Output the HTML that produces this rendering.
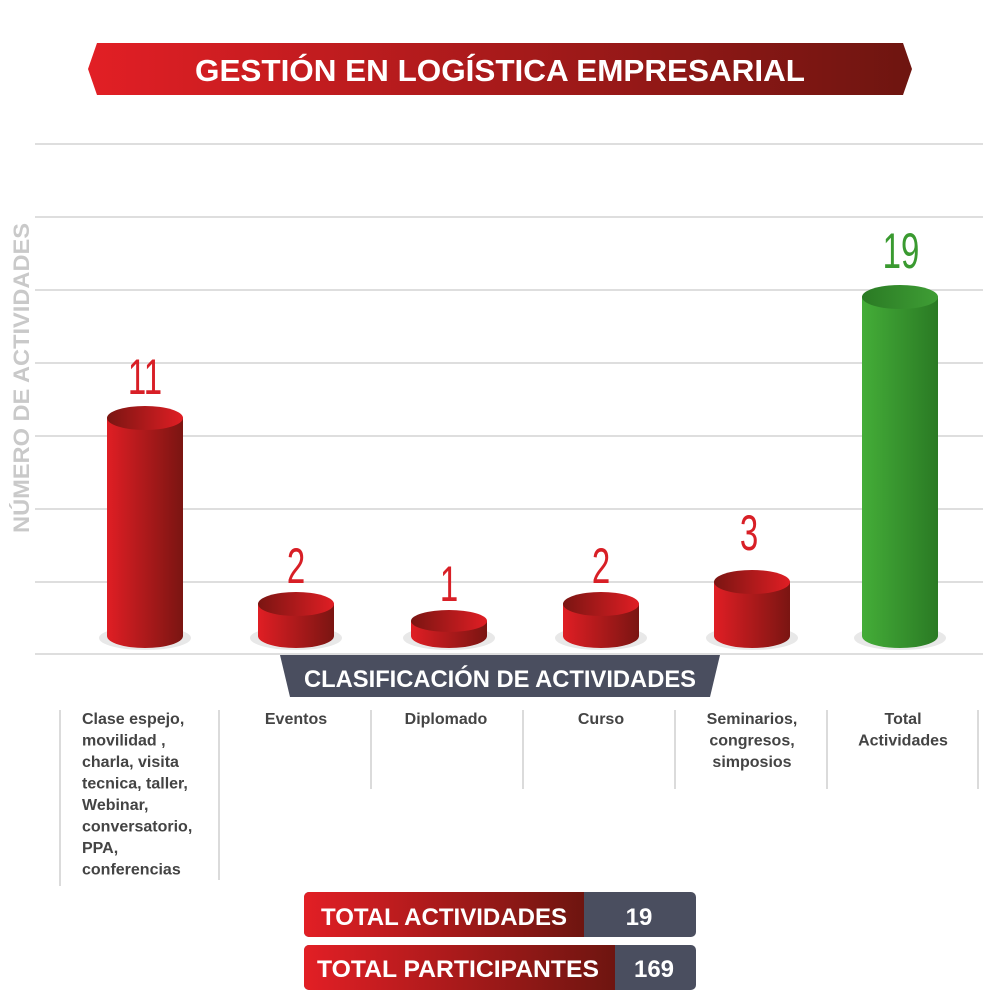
<!DOCTYPE html>
<html><head><meta charset="utf-8"><style>body{margin:0;background:#fff}svg{display:block}</style></head><body>
<svg width="1000" height="1000" viewBox="0 0 1000 1000" xmlns="http://www.w3.org/2000/svg" font-family="Liberation Sans, sans-serif">
<defs>
<linearGradient id="tg" x1="0" x2="1"><stop offset="0" stop-color="#e21f25"/><stop offset="1" stop-color="#6e1510"/></linearGradient>
<linearGradient id="rb" x1="0" x2="1"><stop offset="0" stop-color="#e01e24"/><stop offset="1" stop-color="#7a1512"/></linearGradient>
<linearGradient id="rt" x1="0" x2="1"><stop offset="0" stop-color="#7a1512"/><stop offset="1" stop-color="#e01e24"/></linearGradient>
<linearGradient id="gb" x1="0" x2="1"><stop offset="0" stop-color="#44ad38"/><stop offset="1" stop-color="#2a7a24"/></linearGradient>
<linearGradient id="gt" x1="0" x2="1"><stop offset="0" stop-color="#2a7a24"/><stop offset="1" stop-color="#3f9e35"/></linearGradient>
</defs>
<rect width="1000" height="1000" fill="#fff"/>
<polygon points="97,43 903,43 912,69 903,95 97,95 88,69" fill="url(#tg)"/>
<text x="500" y="81" text-anchor="middle" fill="#fff" font-size="31" font-weight="bold" textLength="610" lengthAdjust="spacingAndGlyphs">GESTIÓN EN LOGÍSTICA EMPRESARIAL</text>
<g stroke="#dedede" stroke-width="2">
<line x1="35" y1="144" x2="983" y2="144"/><line x1="35" y1="217" x2="983" y2="217"/><line x1="35" y1="290" x2="983" y2="290"/><line x1="35" y1="363" x2="983" y2="363"/><line x1="35" y1="436" x2="983" y2="436"/><line x1="35" y1="509" x2="983" y2="509"/><line x1="35" y1="582" x2="983" y2="582"/><line x1="35" y1="654" x2="983" y2="654"/>
</g>
<text transform="translate(29,378) rotate(-90)" text-anchor="middle" fill="#c9c9c9" font-size="22" font-weight="bold" textLength="310" lengthAdjust="spacingAndGlyphs">NÚMERO DE ACTIVIDADES</text>
<g fill="#e8e8e8">
<ellipse cx="145" cy="638" rx="46" ry="12"/><ellipse cx="296" cy="638" rx="46" ry="12"/><ellipse cx="449" cy="638" rx="46" ry="12"/><ellipse cx="601" cy="638" rx="46" ry="12"/><ellipse cx="752" cy="638" rx="46" ry="12"/><ellipse cx="900" cy="638" rx="46" ry="12"/>
</g>
<g>
<path d="M107,418 V636 A38,12 0 0 0 183,636 V418 Z" fill="url(#rb)"/><ellipse cx="145" cy="418" rx="38" ry="12" fill="url(#rt)"/>
<path d="M258,604 V636 A38,12 0 0 0 334,636 V604 Z" fill="url(#rb)"/><ellipse cx="296" cy="604" rx="38" ry="12" fill="url(#rt)"/>
<path d="M411,621 V636 A38,12 0 0 0 487,636 V621 Z" fill="url(#rb)"/><ellipse cx="449" cy="621" rx="38" ry="11" fill="url(#rt)"/>
<path d="M563,604 V636 A38,12 0 0 0 639,636 V604 Z" fill="url(#rb)"/><ellipse cx="601" cy="604" rx="38" ry="12" fill="url(#rt)"/>
<path d="M714,582 V636 A38,12 0 0 0 790,636 V582 Z" fill="url(#rb)"/><ellipse cx="752" cy="582" rx="38" ry="12" fill="url(#rt)"/>
<path d="M862,297 V636 A38,12 0 0 0 938,636 V297 Z" fill="url(#gb)"/><ellipse cx="900" cy="297" rx="38" ry="12" fill="url(#gt)"/>
</g>
<g font-size="50" text-anchor="middle" fill="#d81f26">
<text transform="translate(145,394) scale(0.66,1)">11</text>
<text transform="translate(296,583) scale(0.66,1)">2</text>
<text transform="translate(449,601) scale(0.66,1)">1</text>
<text transform="translate(601,583) scale(0.66,1)">2</text>
<text transform="translate(749,550) scale(0.66,1)">3</text>
<text transform="translate(901,268) scale(0.66,1)" fill="#3a9a30">19</text>
</g>
<polygon points="280,655 720,655 710,697 290,697" fill="#4a4e5f"/>
<text x="500" y="687" text-anchor="middle" fill="#fff" font-size="24" font-weight="bold" textLength="392" lengthAdjust="spacingAndGlyphs">CLASIFICACIÓN  DE ACTIVIDADES</text>
<g stroke="#cfcfcf" stroke-width="1.5">
<line x1="60" y1="710" x2="60" y2="886"/><line x1="219" y1="710" x2="219" y2="880"/><line x1="371" y1="710" x2="371" y2="789"/><line x1="523" y1="710" x2="523" y2="789"/><line x1="675" y1="710" x2="675" y2="789"/><line x1="827" y1="710" x2="827" y2="789"/><line x1="978" y1="710" x2="978" y2="789"/>
</g>
<g font-size="16" font-weight="bold" fill="#444">
<text x="82" y="724"><tspan x="82">Clase espejo,</tspan><tspan x="82" dy="21.5">movilidad ,</tspan><tspan x="82" dy="21.5">charla, visita</tspan><tspan x="82" dy="21.5">tecnica, taller,</tspan><tspan x="82" dy="21.5">Webinar,</tspan><tspan x="82" dy="21.5">conversatorio,</tspan><tspan x="82" dy="21.5">PPA,</tspan><tspan x="82" dy="21.5">conferencias</tspan></text>
<g text-anchor="middle">
<text x="296" y="724">Eventos</text>
<text x="446" y="724">Diplomado</text>
<text x="601" y="724">Curso</text>
<text x="752" y="724"><tspan x="752">Seminarios,</tspan><tspan x="752" dy="21.5">congresos,</tspan><tspan x="752" dy="21.5">simposios</tspan></text>
<text x="903" y="724"><tspan x="903">Total</tspan><tspan x="903" dy="21.5">Actividades</tspan></text>
</g>
</g>
<rect x="304" y="892" width="392" height="45" rx="5" fill="#4a4e5f"/>
<path d="M309,892 H584 V937 H309 A5,5 0 0 1 304,932 V897 A5,5 0 0 1 309,892 Z" fill="url(#tg)"/>
<text x="444" y="925" text-anchor="middle" fill="#fff" font-size="24" font-weight="bold" textLength="246" lengthAdjust="spacingAndGlyphs">TOTAL ACTIVIDADES</text>
<text x="639" y="925" text-anchor="middle" fill="#fff" font-size="24" font-weight="bold">19</text>
<rect x="304" y="945" width="392" height="45" rx="5" fill="#4a4e5f"/>
<path d="M309,945 H615 V990 H309 A5,5 0 0 1 304,985 V950 A5,5 0 0 1 309,945 Z" fill="url(#tg)"/>
<text x="458" y="977" text-anchor="middle" fill="#fff" font-size="24" font-weight="bold" textLength="282" lengthAdjust="spacingAndGlyphs">TOTAL PARTICIPANTES</text>
<text x="654" y="977" text-anchor="middle" fill="#fff" font-size="24" font-weight="bold">169</text>
</svg>
</body></html>
